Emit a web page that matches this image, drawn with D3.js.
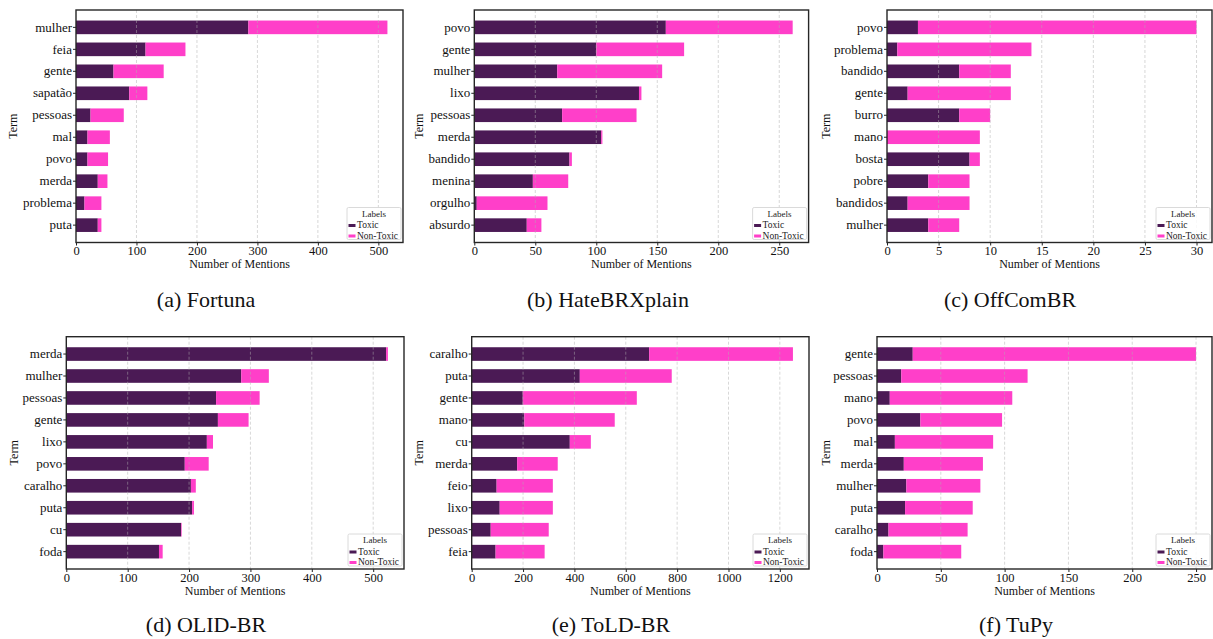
<!DOCTYPE html>
<html>
<head>
<meta charset="utf-8">
<script src="https://cdn.jsdelivr.net/npm/d3@7"></script>
<style>
  html, body { margin: 0; padding: 0; background: #fff; }
  svg { display: block; }
  svg text { font-family: "Liberation Serif", "DejaVu Serif", serif; }
</style>
</head>
<body>
<svg id="chart" width="1213" height="639"></svg>
<script>
// Term mention counts per dataset, split by label.
const fortunaTerms = ["mulher", "feia", "gente", "sapatão", "pessoas", "mal", "povo", "merda", "problema", "puta"];
const fortunaToxic = [285, 115, 62, 88, 24, 19, 19, 36, 14, 36];
const fortunaNonToxic = [230, 66, 83, 30, 55, 37, 34, 16, 28, 6];
const fortunaTicks = [0, 100, 200, 300, 400, 500];

const hateTerms = ["povo", "gente", "mulher", "lixo", "pessoas", "merda", "bandido", "menina", "orgulho", "absurdo"];
const hateToxic = [157, 100, 68, 135, 72, 104, 78, 48, 2, 43];
const hateNonToxic = [104, 72, 86, 2, 61, 1, 2, 29, 58, 12];
const hateTicks = [0, 50, 100, 150, 200, 250];

const offTerms = ["povo", "problema", "bandido", "gente", "burro", "mano", "bosta", "pobre", "bandidos", "mulher"];
const offToxic = [3, 1, 7, 2, 7, 0, 8, 4, 2, 4];
const offNonToxic = [27, 13, 5, 10, 3, 9, 1, 4, 6, 3];
const offTicks = [0, 5, 10, 15, 20, 25, 30];

const olidTerms = ["merda", "mulher", "pessoas", "gente", "lixo", "povo", "caralho", "puta", "cu", "foda"];
const olidToxic = [521, 285, 244, 247, 229, 193, 203, 205, 187, 151];
const olidNonToxic = [3, 45, 71, 50, 10, 39, 8, 3, 1, 6];
const olidTicks = [0, 100, 200, 300, 400, 500];

const toldTerms = ["caralho", "puta", "gente", "mano", "cu", "merda", "feio", "lixo", "pessoas", "feia"];
const toldToxic = [691, 421, 199, 205, 382, 177, 97, 109, 74, 93];
const toldNonToxic = [560, 358, 444, 352, 82, 158, 219, 207, 226, 191];
const toldTicks = [0, 200, 400, 600, 800, 1000, 1200];

const tupyTerms = ["gente", "pessoas", "mano", "povo", "mal", "merda", "mulher", "puta", "caralho", "foda"];
const tupyToxic = [28, 19, 10, 34, 14, 21, 23, 22, 9, 5];
const tupyNonToxic = [222, 99, 96, 64, 77, 62, 58, 53, 62, 61];
const tupyTicks = [0, 50, 100, 150, 200, 250];

const labelNames = ["Toxic", "Non-Toxic"];
const captions = ["(a) Fortuna", "(b) HateBRXplain", "(c) OffComBR", "(d) OLID-BR", "(e) ToLD-BR", "(f) TuPy"];

const colors = { "Toxic": "#4b1a55", "Non-Toxic": "#ff3fc9" };

// Panel geometry (plot area boxes and caption anchors).
const layout = [
  { left: 76,    right: 403,  top: 10,    bottom: 242.5, termX: 13,  capX: 206,  capY: 307 },
  { left: 474.3, right: 808.6,top: 10,    bottom: 242.5, termX: 419, capX: 608,  capY: 307 },
  { left: 887,   right: 1212, top: 10,    bottom: 242.5, termX: 826, capX: 1010, capY: 307 },
  { left: 66.3,  right: 404,  top: 336.7, bottom: 569,   termX: 14,  capX: 206,  capY: 632 },
  { left: 471.7, right: 809,  top: 336.7, bottom: 569,   termX: 419, capX: 611,  capY: 632 },
  { left: 877,   right: 1212, top: 336.7, bottom: 569,   termX: 826, capX: 1016, capY: 632 }
];

const datasets = [
  { terms: fortunaTerms, toxic: fortunaToxic, nonToxic: fortunaNonToxic, ticks: fortunaTicks },
  { terms: hateTerms,    toxic: hateToxic,    nonToxic: hateNonToxic,    ticks: hateTicks },
  { terms: offTerms,     toxic: offToxic,     nonToxic: offNonToxic,     ticks: offTicks },
  { terms: olidTerms,    toxic: olidToxic,    nonToxic: olidNonToxic,    ticks: olidTicks },
  { terms: toldTerms,    toxic: toldToxic,    nonToxic: toldNonToxic,    ticks: toldTicks },
  { terms: tupyTerms,    toxic: tupyToxic,    nonToxic: tupyNonToxic,    ticks: tupyTicks }
];

const svg = d3.select("#chart");

datasets.forEach((ds, i) => {
  const L = layout[i];
  const rows = ds.terms.map((t, k) => ({ term: t, "Toxic": ds.toxic[k], "Non-Toxic": ds.nonToxic[k] }));
  const stacked = d3.stack().keys(labelNames)(rows);
  const maxTotal = d3.max(rows, r => r["Toxic"] + r["Non-Toxic"]);

  const x = d3.scaleLinear().domain([0, maxTotal * 1.05]).range([L.left, L.right]);
  const y = d3.scaleBand().domain(ds.terms).range([L.top, L.bottom])
    .paddingInner(0.38).paddingOuter(0.48);

  const g = svg.append("g");

  // bars
  g.selectAll("g.series").data(stacked).join("g")
    .attr("class", "series")
    .attr("fill", s => colors[s.key])
    .selectAll("rect").data(s => s.map(d => ({ d, term: d.data.term }))).join("rect")
    .attr("x", v => x(v.d[0]))
    .attr("y", v => y(v.term))
    .attr("width", v => Math.max(0, x(v.d[1]) - x(v.d[0])))
    .attr("height", y.bandwidth());

  // vertical dashed grid
  g.selectAll("line.grid").data(ds.ticks.filter(t => t > 0)).join("line")
    .attr("class", "grid")
    .attr("x1", t => x(t)).attr("x2", t => x(t))
    .attr("y1", L.top).attr("y2", L.bottom)
    .attr("stroke", "#b0b0b0").attr("stroke-opacity", 0.55)
    .attr("stroke-width", 0.9).attr("stroke-dasharray", "3,2");

  // axes
  const xAxis = g.append("g").attr("transform", `translate(0,${L.bottom})`)
    .call(d3.axisBottom(x).tickValues(ds.ticks).tickFormat(d3.format("d")).tickSize(3).tickPadding(1));
  xAxis.select(".domain").remove();
  xAxis.selectAll("line").attr("stroke", "#222");
  xAxis.selectAll("text").attr("font-size", 12.5).attr("fill", "#111");

  const yAxis = g.append("g").attr("transform", `translate(${L.left},0)`)
    .call(d3.axisLeft(y).tickSize(3).tickPadding(1));
  yAxis.select(".domain").remove();
  yAxis.selectAll("line").attr("stroke", "#222");
  yAxis.selectAll("text").attr("font-size", 13).attr("fill", "#111");

  // frame
  g.append("rect")
    .attr("x", L.left).attr("y", L.top)
    .attr("width", L.right - L.left).attr("height", L.bottom - L.top)
    .attr("fill", "none").attr("stroke", "#262626").attr("stroke-width", 1.4);

  // axis titles
  g.append("text")
    .attr("x", (L.left + L.right) / 2).attr("y", L.bottom + 25.5)
    .attr("text-anchor", "middle").attr("font-size", 12)
    .attr("fill", "#111").text("Number of Mentions");
  g.append("text")
    .attr("transform", `translate(${L.termX + 4},${(L.top + L.bottom) / 2}) rotate(-90)`)
    .attr("text-anchor", "middle").attr("font-size", 12)
    .attr("fill", "#111").text("Term");

  // legend
  const lw = 54, lh = 32;
  const lx = L.right - lw - 2, ly = L.bottom - lh - 3;
  const lg = g.append("g").attr("transform", `translate(${lx},${ly})`);
  lg.append("rect").attr("width", lw).attr("height", lh).attr("rx", 1.5)
    .attr("fill", "#fff").attr("fill-opacity", 0.85)
    .attr("stroke", "#d6d6d6").attr("stroke-width", 0.9);
  lg.append("text").attr("x", lw / 2).attr("y", 9).attr("text-anchor", "middle")
    .attr("font-size", 9).attr("fill", "#222").text("Labels");
  labelNames.forEach((name, k) => {
    const yy = 17.5 + k * 10.5;
    lg.append("rect").attr("x", 1.5).attr("y", yy - 1).attr("width", 7).attr("height", 3)
      .attr("fill", colors[name]);
    lg.append("text").attr("x", 10).attr("y", yy + 3)
      .attr("font-size", 9.5).attr("fill", "#222").text(name);
  });

  // caption
  svg.append("text")
    .attr("x", L.capX).attr("y", L.capY).attr("text-anchor", "middle")
    .attr("font-size", 22).attr("fill", "#111")
    .text(captions[i]);
});
</script>
</body>
</html>
